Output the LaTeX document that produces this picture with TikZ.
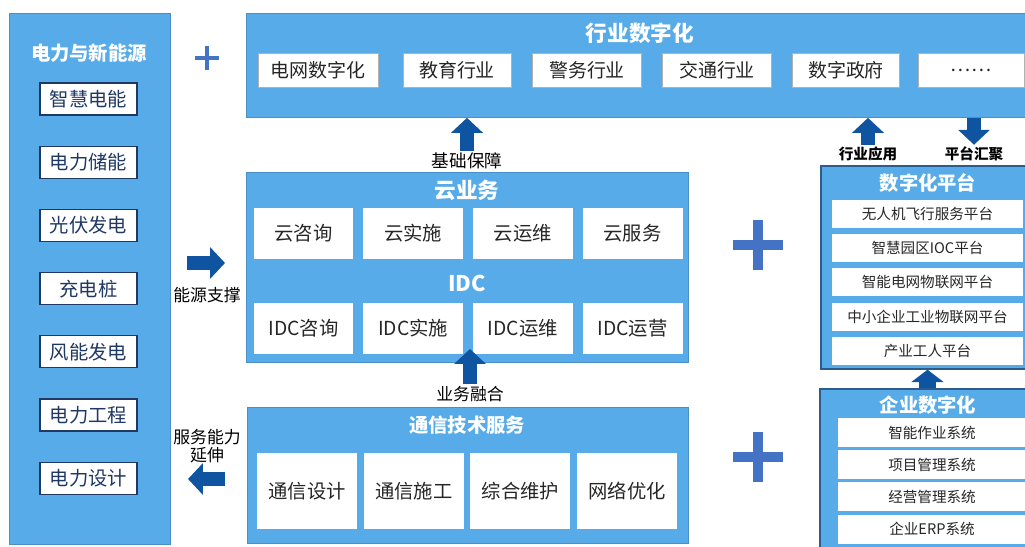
\documentclass[tikz,border=0pt]{standalone}
\usepackage{fontspec}
\setmainfont{Noto Sans CJK SC}
\usetikzlibrary{arrows.meta,positioning}

\definecolor{panelblue}{RGB}{86,171,232}
\definecolor{arrowblue}{RGB}{14,84,160}
\definecolor{plusblue}{RGB}{68,114,196}
\definecolor{navy}{RGB}{31,56,100}
\definecolor{edgeblue}{RGB}{44,92,140}
\definecolor{txtgray}{RGB}{38,38,38}

\begin{document}
\begin{tikzpicture}[x=0.02cm, y=-0.02cm,
    % Blue background panels
    panel/.style={rectangle, anchor=north west, inner sep=0pt, fill=panelblue,
        draw=panelblue!85!black, line width=0.5pt},
    sidepanel/.style={panel, draw=edgeblue, line width=1pt},
    % Panel titles
    title/.style={text=white, inner sep=1pt, font=\fontsize{11}{13}\selectfont\bfseries},
    bigtitle/.style={title, font=\fontsize{12.3}{14}\selectfont\bfseries},
    % Boxes inside the panels
    energy/.style={rectangle, draw=navy, line width=0.7pt, fill=white, text=navy,
        minimum width=1.94cm, minimum height=0.64cm, inner sep=0pt, font=\fontsize{11}{13}\selectfont},
    industry/.style={rectangle, draw=gray!60, line width=0.5pt, fill=white, text=txtgray,
        minimum height=0.68cm, inner sep=0pt, font=\fontsize{10.8}{13}\selectfont},
    service/.style={rectangle, fill=white, text=txtgray, minimum width=2cm,
        inner sep=0pt, font=\fontsize{11}{13}\selectfont},
    platform/.style={rectangle, fill=white, text=txtgray, inner sep=0pt,
        font=\fontsize{8.3}{10}\selectfont},
    % Block arrows and their labels
    blockarrow/.style={arrowblue, line width=8.5pt, -{Triangle[width=17.6pt, length=8.5pt]}},
    note/.style={text=black, inner sep=1pt, font=\fontsize{9.6}{12}\selectfont},
    boldnote/.style={text=black, inner sep=1pt, font=\fontsize{8.3}{10}\selectfont\bfseries},
    plusline/.style={plusblue, line width=#1}
]
    \useasboundingbox (0,0) rectangle (1025,547);

    % Panels
    \node[panel, minimum width=3.22cm, minimum height=10.62cm] (dianli) at (9,13) {};
    \node[panel, minimum width=15.7cm, minimum height=2.08cm] (hangye) at (246,13) {};
    \node[panel, minimum width=8.84cm, minimum height=3.8cm] (yun) at (246,172) {};
    \node[panel, minimum width=8.82cm, minimum height=2.72cm] (tongxin) at (247,407) {};
    \node[sidepanel, minimum width=4.3cm, minimum height=4.06cm] (pingtai) at (820,165) {};
    \node[sidepanel, minimum width=4.3cm, minimum height=3.4cm] (qiye) at (819,388) {};

    % Titles
    \node[title] (dianliT) at (89,53) {电力与新能源};
    \node[bigtitle] (hangyeT) at (640,33) {行业数字化};
    \node[bigtitle] (yunT) at (467,190) {云业务};
    \node[bigtitle] (idcT) at (467,283) {IDC};
    \node[title] (tongxinT) at (467,425) {通信技术服务};
    \node[title] (pingtaiT) at (928,183) {数字化平台};
    \node[title] (qiyeT) at (928,405) {企业数字化};

    % Power and new energy
    \node[energy] (en1) at (88.5,99) {智慧电能};
    \node[energy, below=0.6cm of en1] (en2) {电力储能};
    \node[energy, below=0.6cm of en2] (en3) {光伏发电};
    \node[energy, below=0.6cm of en3] (en4) {充电桩};
    \node[energy, below=0.6cm of en4] (en5) {风能发电};
    \node[energy, below=0.6cm of en5] (en6) {电力工程};
    \node[energy, below=0.6cm of en6] (en7) {电力设计};

    % Industry digitalisation
    \node[industry, minimum width=2.4cm] (ind1) at (318,70) {电网数字化};
    \node[industry, minimum width=2.16cm] (ind2) at (457,70) {教育行业};
    \node[industry, minimum width=2.18cm] (ind3) at (587,70) {警务行业};
    \node[industry, minimum width=2.18cm] (ind4) at (717,70) {交通行业};
    \node[industry, minimum width=2.14cm] (ind5) at (846,70) {数字政府};
    \node[industry, minimum width=2.12cm] (ind6) at (971,70) {……};

    % Cloud and IDC
    \node[service, minimum height=1.02cm] (yun1) at (303.5,233.5) {云咨询};
    \node[service, minimum height=1.02cm, right=0.18cm of yun1] (yun2) {云实施};
    \node[service, minimum height=1.02cm, right=0.18cm of yun2] (yun3) {云运维};
    \node[service, minimum height=1.02cm, right=0.18cm of yun3] (yun4) {云服务};
    \node[service, minimum height=1.02cm, below=0.86cm of yun1] (idc1) {IDC咨询};
    \node[service, minimum height=1.02cm, below=0.86cm of yun2] (idc2) {IDC实施};
    \node[service, minimum height=1.02cm, below=0.86cm of yun3] (idc3) {IDC运维};
    \node[service, minimum height=1.02cm, below=0.86cm of yun4] (idc4) {IDC运营};

    % Communication services
    \node[service, minimum height=1.52cm] (tx1) at (307,491) {通信设计};
    \node[service, minimum height=1.52cm, right=0.12cm of tx1] (tx2) {通信施工};
    \node[service, minimum height=1.52cm, right=0.12cm of tx2] (tx3) {综合维护};
    \node[service, minimum height=1.52cm, right=0.12cm of tx3] (tx4) {网络优化};

    % Digital platforms
    \node[platform, minimum width=3.82cm, minimum height=0.56cm] (pt1) at (927.5,214) {无人机飞行服务平台};
    \node[platform, minimum width=3.82cm, minimum height=0.56cm, below=0.11cm of pt1] (pt2) {智慧园区IOC平台};
    \node[platform, minimum width=3.82cm, minimum height=0.56cm, below=0.11cm of pt2] (pt3) {智能电网物联网平台};
    \node[platform, minimum width=3.82cm, minimum height=0.56cm, below=0.11cm of pt3] (pt4) {中小企业工业物联网平台};
    \node[platform, minimum width=3.82cm, minimum height=0.56cm, below=0.11cm of pt4] (pt5) {产业工人平台};

    % Enterprise digitalisation
    \node[platform, minimum width=3.76cm, minimum height=0.58cm] (qy1) at (932,432.5) {智能作业系统};
    \node[platform, minimum width=3.76cm, minimum height=0.58cm, below=0.05cm of qy1] (qy2) {项目管理系统};
    \node[platform, minimum width=3.76cm, minimum height=0.58cm, below=0.05cm of qy2] (qy3) {经营管理系统};
    \node[platform, minimum width=3.76cm, minimum height=0.58cm, below=0.05cm of qy3] (qy4) {企业ERP系统};

    % Arrow labels
    \node[note, font=\fontsize{10}{12}\selectfont] (jichu) at (467,161) {基础保障};
    \node[boldnote] (yingyong) at (868,154) {行业应用};
    \node[boldnote] (huiju) at (974,154) {平台汇聚};
    \node[note] (nengyuan) at (207,295) {能源支撑};
    \node[note, align=center] (yanshen) at (207,446) {服务能力\\[-2pt]延伸};
    \node[note] (ronghe) at (470,394) {业务融合};

    % Free arrow ends
    \coordinate (nyS) at (187,263);
    \coordinate (nyE) at (225,263);
    \coordinate (ysS) at (225,479);
    \coordinate (ysE) at (188,479);
    \coordinate (rhE) at (470,349);

    % Block arrows
    \draw[blockarrow] (jichu.north) -- (jichu.north |- hangye.south);
    \draw[blockarrow] (yingyong.north) -- (yingyong.north |- hangye.south);
    \draw[blockarrow] (hangye.south -| huiju.north) -- (huiju.north);
    \draw[blockarrow] (nyS) -- (nyE);
    \draw[blockarrow] (ysS) -- (ysE);
    \draw[blockarrow] (ronghe.north) -- (rhE);
    \draw[arrowblue, line width=10pt, -{Triangle[width=18pt, length=7pt]}]
        (qiye.north -| pt5) -- (pingtai.south -| pt5);

    % Plus signs
    \draw[plusline=2.8pt] (195,58) -- (219,58) (207,46) -- (207,70);
    \draw[plusline=5.7pt] (733,245) -- (783,245) (758,220) -- (758,270);
    \draw[plusline=5.7pt] (733,457) -- (783,457) (758,432) -- (758,482);
\end{tikzpicture}
\end{document}
